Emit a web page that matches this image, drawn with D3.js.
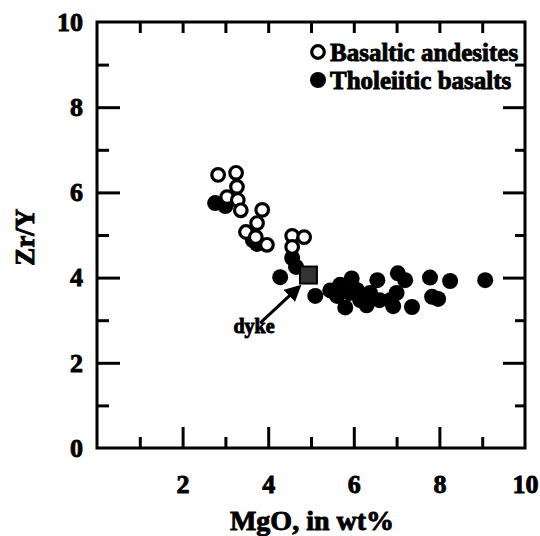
<!DOCTYPE html>
<html>
<head>
<meta charset="utf-8">
<script src="https://cdn.jsdelivr.net/npm/d3@7"></script>
<style>
  body { margin: 0; background: #fff; }
  text { font-family: "Liberation Serif", "Times New Roman", serif; font-weight: bold; fill: #000; stroke: #000; stroke-width: 0.9px; }
</style>
</head>
<body>
<div id="chart"></div>
<script>
// Basaltic andesites (open circles): [MgO, Zr/Y]
var andesites = [
  [2.83, 6.41], [3.25, 6.46], [3.27, 6.13], [3.04, 5.89], [3.29, 5.82],
  [3.36, 5.58], [3.86, 5.59], [3.74, 5.28], [3.48, 5.07], [3.71, 4.95],
  [3.97, 4.77], [4.56, 4.98], [4.84, 4.95], [4.56, 4.72]
]
// Tholeiitic basalts (filled circles)
var basalts = [
  [2.76, 5.75], [3.0, 5.68], [3.64, 4.88], [3.74, 4.79], [4.56, 4.46], [4.65, 4.25],
  [4.28, 4.01], [5.1, 3.57], [5.45, 3.7], [5.68, 3.83], [5.61, 3.57], [5.8, 3.3],
  [5.95, 3.98], [5.91, 3.64], [6.07, 3.71], [6.15, 3.47], [6.19, 3.57], [6.3, 3.35],
  [6.38, 3.64], [6.55, 3.94], [6.6, 3.47], [6.85, 3.47], [6.92, 3.33], [7.0, 3.64],
  [7.03, 4.1], [7.2, 3.94], [7.36, 3.31], [7.78, 4.0], [8.25, 3.92], [7.83, 3.55],
  [7.97, 3.5], [9.07, 3.94]
]
var dyke = [4.94, 4.06]
var arrowFrom = [3.81, 2.93], arrowTo = [4.72, 3.78]

var majorTicks = [2, 4, 6, 8]
var minorTicks = [1, 3, 5, 7, 9]
var xLabels = [2, 4, 6, 8, 10]
var yLabels = [0, 2, 4, 6, 8, 10]

var width = 540, height = 536

var svg = d3.select("#chart").append("svg")
  .attr("width", width)
  .attr("height", height)

var x = d3.scaleLinear().domain([0, 10]).range([97, 525])
var y = d3.scaleLinear().domain([0, 10]).range([448, 22])

function styleAxis(g) {
  g.select(".domain").remove()
  g.selectAll(".tick line").attr("stroke", "#000").attr("stroke-width", 3)
  g.selectAll(".tick text").style("font-size", "26px").attr("fill", "#000")
}

// left
svg.append("g").attr("transform", "translate(" + x(0) + ",0)")
  .call(d3.axisLeft(y).tickValues(yLabels).tickSize(-23).tickPadding(14).tickFormat(d3.format("d")))
  .call(styleAxis)
  .selectAll(".tick").filter(function (d) { return d == 0 || d == 10 }).select("line").remove()
svg.append("g").attr("transform", "translate(" + x(0) + ",0)")
  .call(d3.axisLeft(y).tickValues(minorTicks).tickSize(-12).tickFormat(""))
  .call(styleAxis)

// bottom
svg.append("g").attr("transform", "translate(0," + y(0) + ")")
  .call(d3.axisBottom(x).tickValues(xLabels).tickSize(-21).tickPadding(27).tickFormat(d3.format("d")))
  .call(styleAxis)
  .selectAll(".tick").filter(function (d) { return d == 10 }).select("line").remove()
svg.append("g").attr("transform", "translate(0," + y(0) + ")")
  .call(d3.axisBottom(x).tickValues(minorTicks).tickSize(-11).tickFormat(""))
  .call(styleAxis)

// top
svg.append("g").attr("transform", "translate(0," + y(10) + ")")
  .call(d3.axisTop(x).tickValues(minorTicks.concat(majorTicks)).tickSize(-11).tickFormat(""))
  .call(styleAxis)

// right
svg.append("g").attr("transform", "translate(" + x(10) + ",0)")
  .call(d3.axisRight(y).tickValues(majorTicks).tickSize(-22).tickFormat(""))
  .call(styleAxis)
svg.append("g").attr("transform", "translate(" + x(10) + ",0)")
  .call(d3.axisRight(y).tickValues(minorTicks).tickSize(-10).tickFormat(""))
  .call(styleAxis)

// frame
svg.append("rect")
  .attr("x", x(0)).attr("y", y(10))
  .attr("width", x(10) - x(0)).attr("height", y(0) - y(10))
  .attr("fill", "none").attr("stroke", "#000").attr("stroke-width", 3)

// axis titles
svg.append("text")
  .attr("x", 312).attr("y", 530)
  .attr("text-anchor", "middle")
  .style("font-size", "28px")
  .text("MgO, in wt%")

svg.append("text")
  .attr("transform", "translate(34," + y(4.95) + ") rotate(-90)")
  .attr("text-anchor", "middle")
  .style("font-size", "27px")
  .text("Zr/Y")

// points
svg.append("g").selectAll("circle")
  .data(basalts)
  .enter().append("circle")
  .attr("cx", function (d) { return x(d[0]) })
  .attr("cy", function (d) { return y(d[1]) })
  .attr("r", 8)
  .attr("fill", "#000")

svg.append("g").selectAll("circle")
  .data(andesites)
  .enter().append("circle")
  .attr("cx", function (d) { return x(d[0]) })
  .attr("cy", function (d) { return y(d[1]) })
  .attr("r", 6.3)
  .attr("fill", "#fff")
  .attr("stroke", "#000")
  .attr("stroke-width", 3.2)

// dyke
svg.append("rect")
  .attr("x", x(dyke[0]) - 8.5).attr("y", y(dyke[1]) - 8.5)
  .attr("width", 17).attr("height", 17)
  .attr("fill", "#333").attr("stroke", "#000").attr("stroke-width", 2)

svg.append("defs").append("marker")
  .attr("id", "head")
  .attr("viewBox", "0 0 10 10")
  .attr("refX", 8).attr("refY", 5)
  .attr("markerWidth", 5.5).attr("markerHeight", 5.5)
  .attr("orient", "auto")
  .append("path").attr("d", "M0,0L10,5L0,10z").attr("fill", "#000")

svg.append("line")
  .attr("x1", x(arrowFrom[0])).attr("y1", y(arrowFrom[1]))
  .attr("x2", x(arrowTo[0])).attr("y2", y(arrowTo[1]))
  .attr("stroke", "#000").attr("stroke-width", 3)
  .attr("marker-end", "url(#head)")

svg.append("text")
  .attr("x", 254).attr("y", 333)
  .attr("text-anchor", "middle")
  .style("font-size", "20px")
  .text("dyke")

// legend
var legend = [["Basaltic andesites", true], ["Tholeiitic basalts", false]]
var lg = svg.append("g").selectAll("g")
  .data(legend)
  .enter().append("g")
  .attr("transform", function (d, i) { return "translate(318," + (52 + i * 28) + ")" })
lg.append("circle")
  .attr("r", function (d) { return d[1] ? 6.3 : 8 })
  .attr("fill", function (d) { return d[1] ? "#fff" : "#000" })
  .attr("stroke", function (d) { return d[1] ? "#000" : "none" })
  .attr("stroke-width", 3.2)
lg.append("text")
  .attr("x", 12).attr("dy", "0.35em")
  .style("font-size", "25px")
  .text(function (d) { return d[0] })
</script>
</body>
</html>
